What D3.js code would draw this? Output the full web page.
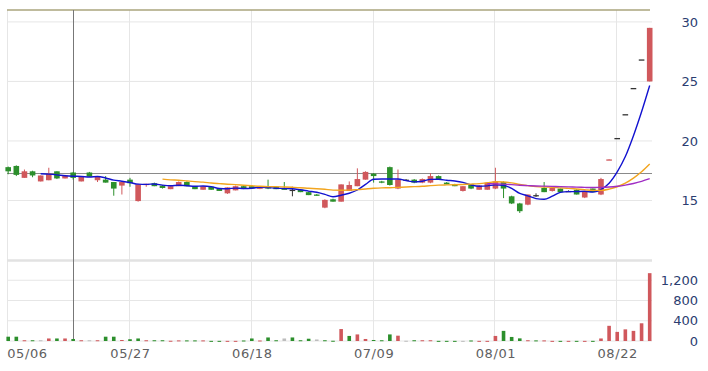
<!DOCTYPE html>
<html><head><meta charset="utf-8">
<script src="https://cdn.jsdelivr.net/npm/d3@7"></script>
<style>body{margin:0;background:#fff}svg{display:block}text{font-family:"DejaVu Sans",sans-serif}</style>
</head><body><svg id="c" width="708" height="371"></svg>
<script>
const dates = ["05/06","05/07","05/08","05/09","05/10","05/13","05/14","05/15","05/16","05/17",
"05/20","05/21","05/22","05/23","05/24","05/27","05/28","05/29","05/30","05/31",
"06/03","06/04","06/05","06/06","06/07","06/11","06/12","06/13","06/14","06/17",
"06/18","06/19","06/20","06/21","06/24","06/25","06/26","06/27","06/28","07/01",
"07/02","07/03","07/04","07/05","07/08","07/09","07/10","07/11","07/12","07/15",
"07/16","07/17","07/18","07/19","07/22","07/23","07/26","07/29","07/30","07/31",
"08/01","08/02","08/05","08/06","08/07","08/08","08/09","08/12","08/13","08/14",
"08/15","08/16","08/19","08/20","08/21","08/22","08/23","08/26","08/27","08/28"];
const open  = [17.8,17.9,16.9,17.45,16.6,16.7,17.45,16.85,17.35,16.6,17.35,16.7,16.75,16.55,16.25,16.75,14.95,16.3,16.45,16.25,
15.95,16.2,16.55,16.2,15.9,16.15,16.0,15.6,15.85,16.2,16.2,15.98,16.15,16.15,16.0,15.9,15.9,15.7,15.5,14.4,
15.1,14.9,15.8,16.2,16.75,17.25,16.6,17.8,16.0,16.75,16.75,16.5,16.5,17.05,16.5,16.35,15.8,16.35,15.9,15.9,
16.0,16.55,15.35,14.75,14.65,15.45,16.05,15.8,16.0,15.8,15.9,15.25,16.0,15.5,18.4,20.25,22.25,24.45,26.85,25.0];
const high  = [17.85,17.95,17.6,17.5,17.1,17.75,17.45,17.15,17.4,17.0,17.4,17.05,17.05,16.55,16.6,16.9,16.4,16.4,16.5,16.3,
16.2,16.6,16.6,16.2,16.2,16.2,16.0,16.1,16.25,16.25,16.25,16.15,16.75,16.2,16.55,16.15,15.95,15.75,15.55,15.1,
15.15,16.35,16.6,17.7,17.45,17.3,16.65,17.85,17.6,16.8,16.8,16.85,17.3,17.1,16.55,16.4,16.2,16.35,16.3,16.55,
17.75,16.6,15.4,14.8,15.5,15.6,16.55,16.05,16.0,15.85,15.95,15.8,16.0,16.9,18.45,20.25,22.25,24.45,26.85,29.5];
const low   = [17.2,17.05,16.9,16.95,16.6,16.7,16.8,16.85,16.75,16.6,17.0,16.55,16.5,15.4,15.5,16.15,14.9,16.15,16.2,16.0,
15.95,16.2,16.2,15.95,15.9,15.9,15.8,15.55,15.85,15.95,16.0,15.95,15.95,15.95,15.95,15.35,15.7,15.45,15.4,14.35,
14.9,14.9,15.8,16.2,16.75,16.5,16.45,16.25,15.95,16.7,16.45,16.45,16.45,16.8,16.35,16.2,15.75,15.95,15.9,15.9,
15.95,15.2,14.7,13.95,14.6,15.3,15.7,15.75,15.7,15.75,15.5,15.2,15.7,15.45,18.4,20.25,22.25,24.45,26.85,25.0];
const close = [17.45,17.15,17.45,17.1,17.1,17.25,16.85,17.1,16.9,17.0,17.0,17.05,16.5,16.0,16.55,16.45,16.35,16.4,16.2,16.05,
16.2,16.55,16.2,15.95,16.2,15.9,15.8,16.1,16.2,16.05,16.0,16.15,16.0,15.95,15.95,15.9,15.7,15.45,15.45,15.05,
14.9,16.35,16.3,16.8,17.4,17.05,16.5,16.3,16.75,16.75,16.5,16.8,17.05,16.8,16.35,16.2,16.2,16.0,16.25,16.5,
16.6,16.0,14.75,14.1,15.5,15.45,15.7,16.05,15.7,15.8,15.5,15.8,15.7,16.8,18.45,20.25,22.25,24.45,26.85,29.5];
const volume = [85,85,15,15,15,50,50,50,40,15,15,15,85,85,20,35,50,15,15,15,
5,12,12,12,12,3,3,3,3,10,50,10,70,15,50,70,15,45,30,15,
5,236,100,130,40,20,15,130,105,5,15,15,15,3,3,3,3,10,3,3,
100,200,80,52,15,12,12,3,3,3,3,3,3,50,300,180,230,200,350,1340];
const xTicks = ["05/06","05/27","06/18","07/09","08/01","08/22"];
const priceTicks = [15,20,25,30];
const volTicks = [0,400,800,1200];
const maPeriods = [5,20,60];
const refPrice = 17.3;
const markerDate = "05/16";

const UP="#d0585c", DOWN="#2c8f2c", FLAT="#333", VFLAT="#bdbdbd";
const maColors = ["#1212d0","#f2a51f","#a02ec4"];
const svg = d3.select("#c");
const L=7, R=652;
const x = d3.scalePoint(dates,[8.2,649.7]);
const y = d3.scaleLinear([10,31],[260,10]);
const yv = d3.scaleLinear([0,1600],[341,260]);
const grid = "#e6e6e6";

// horizontal gridlines
svg.append("g").selectAll("line").data(priceTicks).join("line")
 .attr("x1",L).attr("x2",R).attr("y1",d=>y(d)).attr("y2",d=>y(d)).attr("stroke",grid);
svg.append("g").selectAll("line").data(volTicks).join("line")
 .attr("x1",L).attr("x2",R).attr("y1",d=>yv(d)).attr("y2",d=>yv(d)).attr("stroke",grid);
// vertical gridlines
svg.append("g").selectAll("line").data(xTicks).join("line")
 .attr("x1",d=>Math.round(x(d)-1)+0.5).attr("x2",d=>Math.round(x(d)-1)+0.5).attr("y1",10).attr("y2",341).attr("stroke",grid);
// panel separator
svg.append("line").attr("x1",L).attr("x2",R).attr("y1",260.5).attr("y2",260.5).attr("stroke","#e2e2e2").attr("stroke-width",2.5);
// top line
svg.append("line").attr("x1",L).attr("x2",650).attr("y1",10).attr("y2",10).attr("stroke","#aaa57c").attr("stroke-width",1.5);
// reference line
svg.append("line").attr("x1",L).attr("x2",R).attr("y1",Math.round(y(refPrice))+0.5).attr("y2",Math.round(y(refPrice))+0.5).attr("stroke","#8a8a8a");
// marker line
svg.append("line").attr("x1",Math.round(x(markerDate))+0.5).attr("x2",Math.round(x(markerDate))+0.5).attr("y1",10).attr("y2",341).attr("stroke","#777");

const data = dates.map((d,i)=>({d,o:open[i],h:high[i],l:low[i],c:close[i],v:volume[i],
  pc: i? close[i-1] : open[i]}));
const col = k => k.c>k.o?UP:(k.c<k.o?DOWN:FLAT);
const cg = svg.append("g");
cg.selectAll("line").data(data).join("line")
 .attr("x1",k=>x(k.d)).attr("x2",k=>x(k.d)).attr("y1",k=>y(k.h)).attr("y2",k=>y(k.l))
 .attr("stroke",col).attr("stroke-width",1);
const bw=5.6;
cg.selectAll("rect").data(data).join("rect")
 .attr("x",k=>x(k.d)-bw/2).attr("width",bw)
 .attr("y",k=>Math.min(y(k.o),y(k.c))).attr("height",k=>Math.max(1.3,Math.abs(y(k.o)-y(k.c))))
 .attr("fill",col);

// moving averages
maPeriods.forEach((p,j)=>{
  const pts=[];
  for(let i=p-1;i<close.length;i++){ pts.push([x(dates[i]), y(d3.mean(close.slice(i-p+1,i+1)))]); }
  svg.append("path").attr("d",d3.line().curve(d3.curveMonotoneX)(pts))
   .attr("fill","none").attr("stroke",maColors[j]).attr("stroke-width",1.4);
});

// volume
svg.append("g").selectAll("rect").data(data).join("rect")
 .attr("x",k=>x(k.d)-1.8).attr("width",3.6)
 .attr("y",k=>yv(k.v)).attr("height",k=>Math.max(1,yv(0)-yv(k.v)))
 .attr("fill",k=>k.c>k.pc?UP:(k.c<k.pc?DOWN:VFLAT));

// axes
const ya = svg.append("g").attr("transform","translate(698,0)")
 .call(d3.axisLeft(y).tickValues(priceTicks).tickSize(0).tickPadding(0));
const va = svg.append("g").attr("transform","translate(698,0)")
 .call(d3.axisLeft(yv).tickValues(volTicks).tickSize(0).tickPadding(0).tickFormat(d3.format(",")));
[ya,va].forEach(g=>{g.select(".domain").remove();
 g.selectAll("text").attr("font-size",13).attr("fill","#2b3d70").attr("font-family","DejaVu Sans");});
const xa = svg.append("g").attr("transform","translate(0,341)")
 .call(d3.axisBottom(x).tickValues(xTicks).tickSize(0).tickPadding(8));
xa.select(".domain").remove();
xa.selectAll("text").attr("font-size",13).attr("fill","#606060").attr("font-family","DejaVu Sans").attr("letter-spacing","0.6px");
xa.selectAll("text").filter(d=>d===xTicks[0]).attr("text-anchor","start").attr("x",-1.5);
</script></body></html>
